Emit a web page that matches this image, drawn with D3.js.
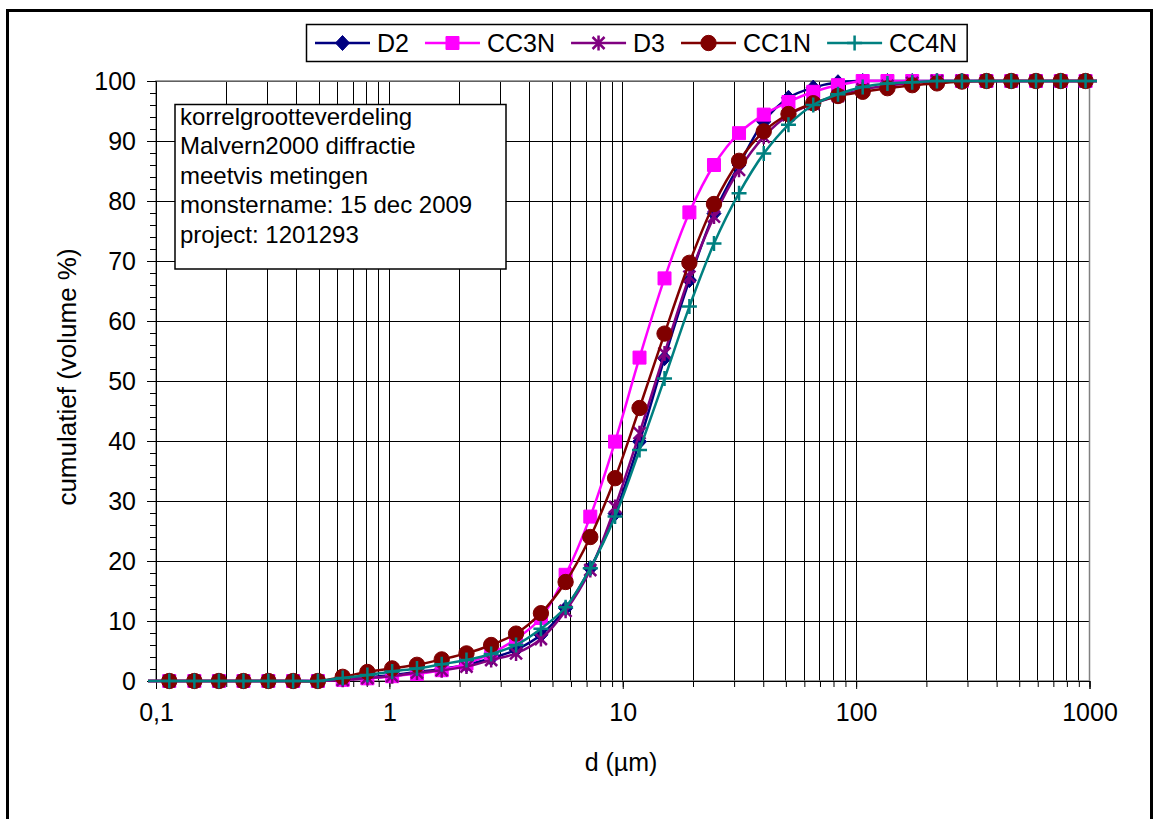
<!DOCTYPE html>
<html>
<head>
<meta charset="utf-8">
<script src="https://cdn.jsdelivr.net/npm/d3@7"></script>
<style>
  body { margin: 0; background: #fff; }
  svg { display: block; font-family: "Liberation Sans", Arial, sans-serif; }
</style>
</head>
<body>
<svg id="chart" width="1155" height="819"></svg>
<script>
// korrelgrootte klassen (µm), incl. een punt net buiten de as aan beide kanten
const sizes = [0.0894, 0.114, 0.146, 0.186, 0.237, 0.303, 0.387, 0.494, 0.631, 0.805, 1.028,
  1.313, 1.676, 2.14, 2.73, 3.49, 4.46, 5.69, 7.26, 9.27, 11.8,
  15.1, 19.3, 24.6, 31.5, 40.2, 51.3, 65.5, 83.6, 106.7, 136.2,
  173.9, 222, 284, 362, 462, 590, 753, 962, 1228];

const D2 = [0, 0, 0, 0, 0, 0, 0, 0, 0.3, 0.6, 1.0,
  1.5, 2.0, 2.7, 3.8, 5.2, 7.7, 12.1, 18.8, 27.9, 39.9,
  53.8, 66.8, 77.9, 86.0, 93.2, 97.2, 98.9, 99.8, 100, 100,
  100, 100, 100, 100, 100, 100, 100, 100, 100];
const CC3N = [0, 0, 0, 0, 0, 0, 0, 0, 0.2, 0.45, 0.8,
  1.2, 1.8, 2.9, 4.6, 7.0, 10.5, 17.7, 27.4, 39.9, 53.9,
  67.1, 78.1, 86.0, 91.3, 94.4, 96.5, 98.2, 99.3, 100, 100,
  100, 100, 100, 100, 100, 100, 100, 100, 100];
const D3 = [0, 0, 0, 0, 0, 0, 0, 0, 0.2, 0.5, 0.8,
  1.4, 1.8, 2.4, 3.5, 4.6, 7.0, 11.7, 18.5, 29.0, 41.3,
  54.6, 67.4, 77.4, 85.2, 90.7, 94.3, 96.2, 97.5, 98.6, 99.2,
  99.7, 100, 100, 100, 100, 100, 100, 100, 100];
const CC1N = [0, 0, 0, 0, 0, 0, 0, 0, 0.7, 1.5, 2.1,
  2.7, 3.6, 4.6, 6.0, 7.9, 11.3, 16.5, 24.0, 33.8, 45.5,
  57.9, 69.7, 79.5, 86.7, 91.6, 94.5, 96.3, 97.5, 98.2, 98.8,
  99.3, 99.6, 99.9, 100, 100, 100, 100, 100, 100];
const CC4N = [0, 0, 0, 0, 0, 0, 0, 0, 0.5, 1.0, 1.6,
  2.1, 2.8, 3.5, 4.5, 6.0, 8.7, 12.3, 18.8, 27.4, 38.5,
  50.4, 62.4, 72.9, 81.3, 87.9, 92.7, 96.0, 97.8, 99.0, 99.6,
  99.8, 100, 100, 100, 100, 100, 100, 100, 100];

const xTickValues = [0.1, 1, 10, 100, 1000];
const xTickLabels = ['0,1', '1', '10', '100', '1000'];
const yTickValues = [0, 10, 20, 30, 40, 50, 60, 70, 80, 90, 100];

const infoLines = ['korrelgrootteverdeling', 'Malvern2000 diffractie', 'meetvis metingen',
  'monstername: 15 dec 2009', 'project: 1201293'];

const series = [
  {name: 'D2', values: D2, color: '#000080', marker: 'diamond'},
  {name: 'CC3N', values: CC3N, color: '#ff00ff', marker: 'square'},
  {name: 'D3', values: D3, color: '#800080', marker: 'asterisk'},
  {name: 'CC1N', values: CC1N, color: '#800000', marker: 'circle'},
  {name: 'CC4N', values: CC4N, color: '#008080', marker: 'plus'}
];

const svg = d3.select('#chart');
const plot = {left: 156, right: 1089.5, top: 81, bottom: 681};

const x = d3.scaleLog().domain([0.1, 1000]).range([plot.left, plot.right]);
const y = d3.scaleLinear().domain([0, 100]).range([plot.bottom, plot.top]);

// outer frame
svg.append('rect')
  .attr('x', 7.5).attr('y', 10.5).attr('width', 1144).attr('height', 840)
  .attr('fill', '#fff').attr('stroke', '#000').attr('stroke-width', 3);

// plot background
svg.append('rect')
  .attr('x', plot.left).attr('y', plot.top)
  .attr('width', plot.right - plot.left).attr('height', plot.bottom - plot.top)
  .attr('fill', '#fff');

// grid lines
let minorX = [];
[0.1, 1, 10, 100].forEach(dec => {
  for (let k = 1; k <= 9; k++) minorX.push(dec * k);
});
minorX.push(1000);

svg.append('g').selectAll('line')
  .data(minorX).enter().append('line')
  .attr('x1', d => x(d)).attr('x2', d => x(d))
  .attr('y1', plot.top).attr('y2', plot.bottom)
  .attr('stroke', '#000').attr('stroke-width', 1)
  .attr('shape-rendering', 'crispEdges');

svg.append('g').selectAll('line')
  .data(yTickValues).enter().append('line')
  .attr('x1', plot.left).attr('x2', plot.right)
  .attr('y1', d => y(d)).attr('y2', d => y(d))
  .attr('stroke', '#000').attr('stroke-width', 1)
  .attr('shape-rendering', 'crispEdges');

// plot border
svg.append('rect')
  .attr('x', plot.left).attr('y', plot.top)
  .attr('width', plot.right - plot.left).attr('height', plot.bottom - plot.top)
  .attr('fill', 'none').attr('stroke', '#808080').attr('stroke-width', 1.5);

// y axis
const yAxisMinor = d3.axisLeft(y).tickValues(d3.range(0, 101, 2)).tickSize(6).tickFormat('');
svg.append('g').attr('transform', 'translate(' + plot.left + ',0)').call(yAxisMinor)
  .call(g => g.select('.domain').remove())
  .selectAll('line').attr('stroke', '#000');

const yAxis = d3.axisLeft(y).tickValues(yTickValues).tickSize(9).tickPadding(11);
svg.append('g').attr('transform', 'translate(' + plot.left + ',0)').call(yAxis)
  .call(g => g.select('.domain').attr('stroke', '#000'))
  .call(g => g.selectAll('line').attr('stroke', '#000'))
  .selectAll('text')
  .style('font-size', '25px').attr('fill', '#000')
  .attr('font-family', '"Liberation Sans", Arial, sans-serif');

// x axis
const xAxisMinor = d3.axisBottom(x).tickValues(minorX).tickSize(6).tickFormat('');
svg.append('g').attr('transform', 'translate(0,' + plot.bottom + ')').call(xAxisMinor)
  .call(g => g.select('.domain').remove())
  .selectAll('line').attr('stroke', '#000');

const xAxis = d3.axisBottom(x).tickValues(xTickValues).tickSize(8).tickPadding(14)
  .tickFormat((d, i) => xTickLabels[i]);
svg.append('g').attr('transform', 'translate(0,' + plot.bottom + ')').call(xAxis)
  .call(g => g.select('.domain').attr('stroke', '#000'))
  .call(g => g.selectAll('line').attr('stroke', '#000'))
  .selectAll('text')
  .style('font-size', '25px').attr('fill', '#000')
  .attr('font-family', '"Liberation Sans", Arial, sans-serif');

// axis titles
svg.append('text')
  .attr('x', 621).attr('y', 771)
  .attr('text-anchor', 'middle')
  .style('font-size', '25px')
  .text('d (µm)');

svg.append('text')
  .attr('transform', 'translate(76,' + ((plot.top + plot.bottom) / 2 - 4) + ') rotate(-90)')
  .attr('text-anchor', 'middle')
  .style('font-size', '26px')
  .text('cumulatief (volume %)');

// markers
function markerPath(type) {
  switch (type) {
    case 'diamond': return 'M0,-7.5L7,0L0,7.5L-7,0Z';
    case 'square': return 'M-6.5,-6.5H6.5V6.5H-6.5Z';
    case 'circle': return d3.symbol(d3.symbolCircle, 185)();
    case 'plus': return 'M-7.5,0H7.5M0,-7.5V7.5';
    case 'asterisk': return 'M-6,-6L6,6M-6,6L6,-6M0,-7.5V7.5';
  }
}
function isStroked(type) {
  return type === 'plus' || type === 'asterisk';
}

// series
svg.append('defs').append('clipPath').attr('id', 'lineClip')
  .append('rect').attr('x', 148).attr('y', 60).attr('width', 1097 - 148).attr('height', 640);

const line = d3.line()
  .x((d, i) => x(sizes[i]))
  .y(d => y(d))
  .curve(d3.curveCatmullRom.alpha(0.5));

series.forEach(s => {
  const g = svg.append('g');
  g.append('path')
    .attr('d', line(s.values))
    .attr('clip-path', 'url(#lineClip)')
    .attr('fill', 'none')
    .attr('stroke', s.color)
    .attr('stroke-width', 2.5);

  const pts = s.values.map((v, i) => ({d: sizes[i], v: v}))
    .filter(p => p.d >= 0.1 && p.d <= 1000);
  g.selectAll('path.m')
    .data(pts).enter().append('path')
    .attr('class', 'm')
    .attr('d', markerPath(s.marker))
    .attr('transform', p => 'translate(' + x(p.d) + ',' + y(p.v) + ')')
    .attr('fill', isStroked(s.marker) ? 'none' : s.color)
    .attr('stroke', s.color)
    .attr('stroke-width', isStroked(s.marker) ? 2.5 : 1);
});

// info box
const info = svg.append('g');
info.append('rect')
  .attr('x', 175).attr('y', 104.5).attr('width', 331).attr('height', 164.5)
  .attr('fill', '#fff').attr('stroke', '#000').attr('stroke-width', 1.5);
info.selectAll('text')
  .data(infoLines).enter().append('text')
  .attr('x', 180)
  .attr('y', (d, i) => 124.5 + i * 29.5)
  .style('font-size', '24px')
  .text(d => d);

// legend
const legend = svg.append('g');
const legendBox = legend.append('rect')
  .attr('y', 24.5).attr('height', 37)
  .attr('fill', '#fff').attr('stroke', '#000').attr('stroke-width', 1.5);
let lx = 315;
const ly = 43;
series.forEach(s => {
  legend.append('line')
    .attr('x1', lx).attr('x2', lx + 55).attr('y1', ly).attr('y2', ly)
    .attr('stroke', s.color).attr('stroke-width', 2.5);
  legend.append('path')
    .attr('d', markerPath(s.marker))
    .attr('transform', 'translate(' + (lx + 27.5) + ',' + ly + ')')
    .attr('fill', isStroked(s.marker) ? 'none' : s.color)
    .attr('stroke', s.color)
    .attr('stroke-width', isStroked(s.marker) ? 2.5 : 1);
  const t = legend.append('text')
    .attr('x', lx + 62).attr('y', ly + 9)
    .style('font-size', '25px')
    .text(s.name);
  lx = lx + 62 + t.node().getComputedTextLength() + 16;
});
legendBox.attr('x', 306.5).attr('width', lx - 306.5 - 6);
</script>
</body>
</html>
